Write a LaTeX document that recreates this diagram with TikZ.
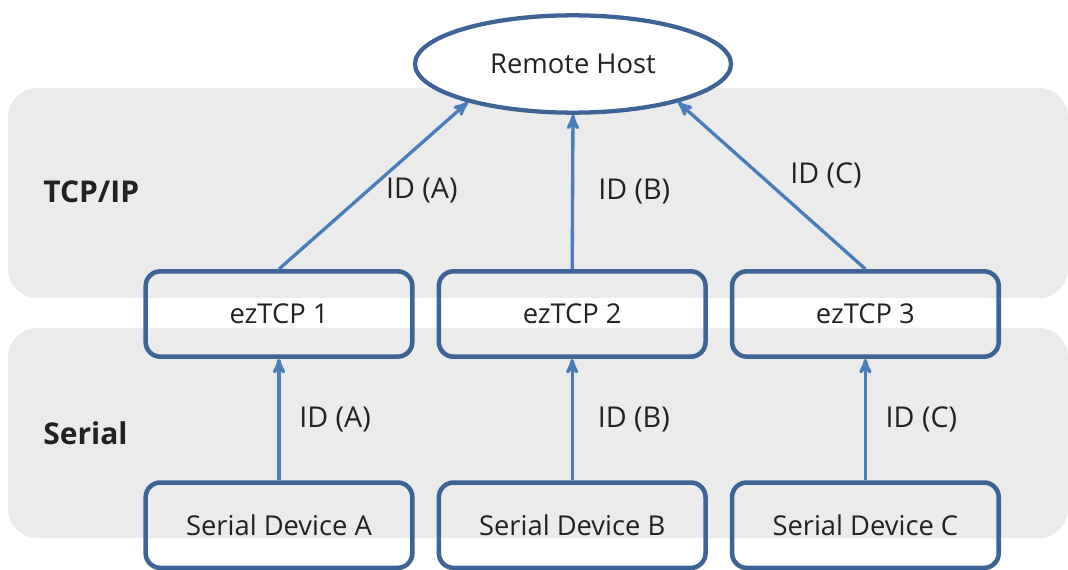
\documentclass[tikz,border=0pt]{standalone}
\usepackage{fontspec}
\setmainfont{Open Sans}
\usetikzlibrary{arrows,positioning,shapes.geometric}

\definecolor{boxblue}{HTML}{3D6497}
\definecolor{linkblue}{HTML}{4A7EBB}
\definecolor{bandgray}{HTML}{EBEBEB}
\definecolor{textgray}{HTML}{222222}

\begin{document}
\begin{tikzpicture}[x=0.75pt,y=-0.75pt,>=stealth',node distance=16.5pt,
  every node/.style={text=textgray},
  dev node/.style={rectangle,rounded corners=11pt,draw=boxblue,line width=3.4pt,
    minimum width=200pt,minimum height=64pt,font=\fontsize{20.5}{24}\selectfont},
  host node/.style={ellipse,draw=boxblue,fill=white,line width=3.2pt,inner sep=0pt,
    minimum width=237pt,minimum height=73pt,font=\fontsize{20.5}{24}\selectfont},
  link/.style={->,draw=linkblue,line width=2.5pt},
  id label/.style={font=\fontsize{21.5}{24}\selectfont,inner sep=0pt},
  layer label/.style={font=\fontsize{22.5}{26}\selectfont\bfseries,anchor=west,inner sep=0pt}]

  \useasboundingbox (0,0) rectangle (1068,570);

  % layer bands
  \fill[bandgray,rounded corners=22pt] (8,88) rectangle (1068,298);
  \fill[bandgray,rounded corners=22pt] (8,328) rectangle (1068,538);
  \node[layer label] (tcpip) at (43,192) {TCP/IP};
  \node[layer label] (serial) at (43,433) {Serial};

  \node[host node] (host) at (573,64) {Remote Host};

  \node[dev node] (tcp1) at (279,314) {ezTCP 1};
  \node[dev node] (tcp2) [right=of tcp1] {ezTCP 2};
  \node[dev node] (tcp3) [right=of tcp2] {ezTCP 3};

  \node[dev node] (devA) [below=91pt of tcp1] {Serial Device A};
  \node[dev node] (devB) [below=91pt of tcp2] {Serial Device B};
  \node[dev node] (devC) [below=91pt of tcp3] {Serial Device C};

  \draw[link] (tcp1.north) -- node[id label,pos=.47,right=12.5pt] {ID (A)} (host.200);
  \draw[link] (tcp2.north) -- node[id label,right=18pt] {ID (B)} (host.south);
  \draw[link] (tcp3.north) -- node[id label,pos=.56,right=21pt] {ID (C)} (host.340);

  \draw[link] (devA) -- node[id label,right=14pt] {ID (A)} (tcp1);
  \draw[link] (devB) -- node[id label,right=18pt] {ID (B)} (tcp2);
  \draw[link] (devC) -- node[id label,right=14pt] {ID (C)} (tcp3);
\end{tikzpicture}
\end{document}
